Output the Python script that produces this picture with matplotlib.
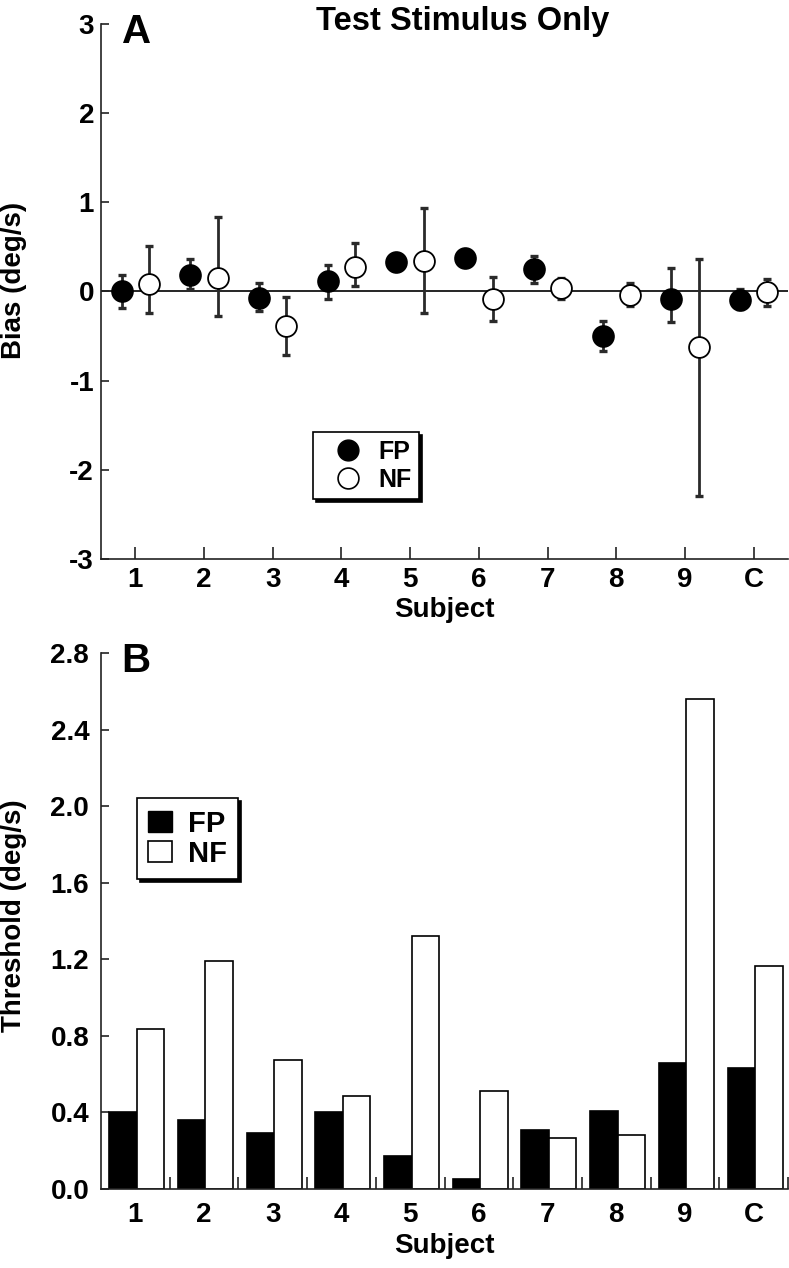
import numpy as np
import matplotlib
matplotlib.use('Agg')
import matplotlib.pyplot as plt
from matplotlib.patches import Patch
from matplotlib.lines import Line2D

plt.rcParams['font.family'] = ['Liberation Sans', 'DejaVu Sans']
plt.rcParams['font.weight'] = 'bold'
plt.rcParams['axes.unicode_minus'] = False

subjects = ['1', '2', '3', '4', '5', '6', '7', '8', '9', 'C']

# panel A: bias (deg/s), error bar ends
bias_fp = [0.00, 0.18, -0.07, 0.12, 0.33, 0.38, 0.25, -0.50, -0.08, -0.10]
bias_fp_hi = [0.19, 0.36, 0.10, 0.30, 0.33, 0.38, 0.40, -0.33, 0.26, 0.03]
bias_fp_lo = [-0.19, 0.03, -0.22, -0.08, 0.33, 0.38, 0.09, -0.67, -0.34, -0.20]
bias_nf = [0.08, 0.15, -0.39, 0.28, 0.34, -0.08, 0.04, -0.04, -0.62, -0.01]
bias_nf_hi = [0.51, 0.83, -0.06, 0.54, 0.94, 0.16, 0.15, 0.09, 0.37, 0.14]
bias_nf_lo = [-0.24, -0.28, -0.71, 0.06, -0.24, -0.33, -0.08, -0.16, -2.29, -0.16]

# panel B: threshold (deg/s)
thr_fp = [0.40, 0.36, 0.29, 0.40, 0.17, 0.05, 0.31, 0.41, 0.66, 0.63]
thr_nf = [0.835, 1.19, 0.675, 0.485, 1.32, 0.51, 0.265, 0.28, 2.56, 1.165]

x = np.arange(len(subjects))
W, H = 789, 1268
fig = plt.figure(figsize=(W/100, H/100), dpi=100)
axA = fig.add_axes([101/W, 1-559/H, 687/W, 535/H])
axB = fig.add_axes([101/W, 1-1189/H, 687/W, 536/H])

ecol = '#2a2a2a'
fs = 20

def style(ax):
    for s in ['top', 'right']:
        ax.spines[s].set_visible(False)
    for s in ['left', 'bottom']:
        ax.spines[s].set_linewidth(1.2)
        ax.spines[s].set_color('#222222')
    ax.set_xlim(-0.5, 9.5)
    ax.tick_params(axis='both', which='both', direction='in', labelsize=fs, width=1.2, color='#222222')
    ax.tick_params(axis='y', length=6)

# ---- A ----
style(axA)
axA.axhline(0, color='black', lw=1.2, zorder=1)
for vals, hi, lo, off, fc in [(bias_fp, bias_fp_hi, bias_fp_lo, -0.2, 'black'),
                              (bias_nf, bias_nf_hi, bias_nf_lo, 0.2, 'white')]:
    v = np.array(vals)
    yerr = [v - np.array(lo), np.array(hi) - v]
    axA.errorbar(x + off, v, yerr=yerr, fmt='none', ecolor=ecol, elinewidth=2,
                 capsize=3, capthick=2.4, zorder=2)
    axA.plot(x + off, v, 'o', ms=15, mfc=fc, mec='black', mew=1.3, zorder=3)
axA.set_ylim(-3, 3)
axA.set_yticks([-3, -2, -1, 0, 1, 2, 3])
axA.set_xticks(x)
axA.set_xticklabels(subjects)
axA.tick_params(axis='x', length=9, pad=6)
axA.tick_params(axis='y', pad=5)
axA.set_xlabel('Subject', fontsize=fs, fontweight='bold', labelpad=3)
axA.set_ylabel('Bias (deg/s)', fontsize=fs, fontweight='bold')
axA.yaxis.set_label_coords(-0.107, 0.52)
axA.text(0.03, 0.9645, 'A', transform=axA.transAxes, fontsize=29, fontweight='bold',
         ha='left', va='baseline')
fig.text(463/W, 1-30/H, 'Test Stimulus Only', fontsize=23.5, fontweight='bold',
         ha='center', va='baseline')
hA = [Line2D([], [], marker='o', ls='none', ms=15, mfc='black', mec='black'),
      Line2D([], [], marker='o', ls='none', ms=15, mfc='white', mec='black', mew=1.2)]
legA = axA.legend(hA, ['FP', 'NF'], loc='upper left', bbox_to_anchor=(0.309, 0.2366),
                  prop={'size': 18, 'weight': 'bold'}, fancybox=False, framealpha=1,
                  edgecolor='black', shadow={'color': 'black', 'alpha': 1},
                  handlelength=2.2, handletextpad=0.1, labelspacing=0.16,
                  borderpad=0.3, borderaxespad=0)
legA.get_frame().set_linewidth(1.2)

# ---- B ----
style(axB)
axB.bar(x - 0.18, thr_fp, width=0.4, color='black', edgecolor='black', lw=1.2, zorder=2)
axB.bar(x + 0.22, thr_nf, width=0.4, color='white', edgecolor='black', lw=1.2, zorder=2)
axB.set_ylim(0, 2.8)
axB.set_yticks(np.arange(0, 2.81, 0.4))
axB.set_yticklabels(['%.1f' % t for t in np.arange(0, 2.81, 0.4)])
axB.set_xticks(x)
axB.set_xticklabels(subjects)
axB.set_xticks(x + 0.5, minor=True)
axB.tick_params(axis='x', which='major', length=0, pad=9)
axB.tick_params(axis='x', which='minor', length=9)
axB.tick_params(axis='y', pad=8.5)
axB.set_xlabel('Subject', fontsize=fs, fontweight='bold', labelpad=4)
axB.set_ylabel('Threshold (deg/s)', fontsize=fs, fontweight='bold')
axB.yaxis.set_label_coords(-0.107, 0.51)
axB.text(0.03, 0.9646, 'B', transform=axB.transAxes, fontsize=29, fontweight='bold',
         ha='left', va='baseline')
hB = [Patch(facecolor='black', edgecolor='black'),
      Patch(facecolor='white', edgecolor='black', lw=1.2)]
legB = axB.legend(hB, ['FP', 'NF'], loc='upper left', bbox_to_anchor=(0.052, 0.7295),
                  prop={'size': 21, 'weight': 'bold'}, fancybox=False, framealpha=1,
                  edgecolor='black', shadow={'color': 'black', 'alpha': 1},
                  handlelength=0.8, handleheight=0.75, handletextpad=0.55, labelspacing=0.07,
                  borderpad=0.4, borderaxespad=0)
legB.get_frame().set_linewidth(1.2)

fig.savefig('out.png', dpi=100)
